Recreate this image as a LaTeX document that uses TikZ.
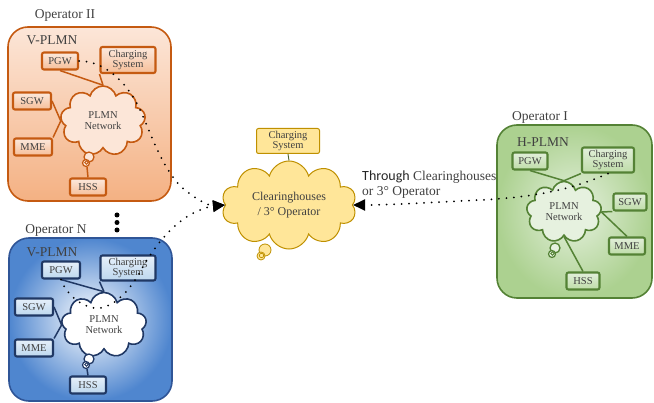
\documentclass[tikz,border=0pt]{standalone}
\usepackage{fontspec}
\setmainfont{Liberation Serif}
\newfontfamily\calibrifont{Carlito}
\usetikzlibrary{shapes.symbols,arrows.meta,calc}
\definecolor{txt}{HTML}{404040}
\definecolor{ored}{HTML}{C55A11}
\definecolor{otop}{HTML}{FCE6D8}
\definecolor{obot}{HTML}{F4B183}
\definecolor{obtop}{HTML}{FCE9DD}
\definecolor{obbot}{HTML}{F6BE98}
\definecolor{bbord}{HTML}{2F5597}
\definecolor{bnavy}{HTML}{203864}
\definecolor{bout}{HTML}{4F86CF}
\definecolor{bbtop}{HTML}{E6F0FA}
\definecolor{bbbot}{HTML}{BDD7EE}
\definecolor{gbord}{HTML}{548235}
\definecolor{gin}{HTML}{E6F1DF}
\definecolor{gout}{HTML}{ACD190}
\definecolor{gbtop}{HTML}{E2EFDA}
\definecolor{gbbot}{HTML}{BEDCA8}
\definecolor{yfill}{HTML}{FFE699}
\definecolor{ybord}{HTML}{BF9000}
\definecolor{ygreen}{HTML}{4F6228}
\begin{document}
\begin{tikzpicture}[x=1pt,y=-1pt,
  box/.style={draw, rounded corners=2pt, line width=2.1pt, text=txt,
    font=\fontsize{10.5}{10.5}\selectfont, inner sep=1pt, align=center, minimum height=17pt},
  obox/.style={box, draw=ored, top color=obtop, bottom color=obbot},
  bbox/.style={box, draw=bnavy, top color=bbtop, bottom color=bbbot},
  gbox/.style={box, draw=gbord, top color=gbtop, bottom color=gbbot},
  pcloud/.style={cloud, cloud puffs=9, cloud ignores aspect, draw, line width=1.6pt,
    text=txt, font=\fontsize{10.5}{11}\selectfont, align=center, inner sep=0pt},
  opanel/.style={draw=ored, line width=1.6pt, rounded corners=20pt, top color=otop, bottom color=obot},
  bpanel/.style={draw=bbord, line width=1.6pt, rounded corners=20pt, inner color=white, outer color=bout},
  gpanel/.style={draw=gbord, line width=1.6pt, rounded corners=20pt, inner color=gin, outer color=gout},
  oplabel/.style={text=txt, font=\fontsize{13.5}{14}\selectfont},
  oline/.style={draw=ored, line width=1.5pt},
  bline/.style={draw=bnavy, line width=1.5pt},
  gline/.style={draw=gbord, line width=1.5pt},
  dotline/.style={line width=2pt, dash pattern=on 0pt off 7.5pt, line cap=round},
  tip/.style={-{Triangle[length=12pt,width=11pt]}}
]
\useasboundingbox (0,0) rectangle (654,403);

% ---------- Operator II (orange) ----------
\path[opanel] (8,27) rectangle (171,201);
\node[oplabel] (opII) at (65,15) {Operator II};
\node[oplabel] (vplmnA) at (52,40) {V-PLMN};
\node[pcloud, draw=ored, fill=otop, minimum width=85pt, minimum height=70pt] (clA) at (103,121) {PLMN\\Network};
\node[obox, minimum width=36pt] (pgwA) at (60,61) {PGW};
\node[obox, minimum width=55pt, minimum height=26pt] (csA) at (128,60) {Charging\\System};
\node[obox, minimum width=38pt] (sgwA) at (32,101) {SGW};
\node[obox, minimum width=38pt] (mmeA) at (33,147) {MME};
\node[obox, minimum width=36pt] (hssA) at (88,187) {HSS};
\draw[ored, line width=1.3pt, fill=otop] (89,157) circle (5);
\draw[ored, line width=1.2pt, fill=otop] (86,163) circle (3.5);
\draw[ored, line width=0.9pt] (86.5,162.5) circle (1.8);
\coordinate (hbA) at (87,167);
\draw[oline] (pgwA.south) -- (clA.north);
\draw[oline] (csA.south west) -- (clA.north);
\draw[oline] (sgwA.east) -- (clA.west);
\draw[oline] (mmeA.north east) -- (clA.west);
\draw[oline] (hssA.north) -- (hbA);

% dots between panels
\foreach \yy in {215,222.5,230} \fill (117,\yy) circle (2.5);

% ---------- Operator N (blue) ----------
\path[bpanel] (9,238) rectangle (172,401);
\node[oplabel] (opN) at (56,230) {Operator N};
\node[oplabel] (vplmnB) at (52,252) {V-PLMN};
\node[pcloud, draw=bnavy, fill=white, minimum width=85pt, minimum height=65pt] (clB) at (104,325) {PLMN\\Network};
\node[bbox, minimum width=38pt] (pgwB) at (61,270) {PGW};
\node[bbox, minimum width=55pt, minimum height=25pt] (csB) at (128,268) {Charging\\System};
\node[bbox, minimum width=38pt] (sgwB) at (34,307) {SGW};
\node[bbox, minimum width=38pt] (mmeB) at (34,348) {MME};
\node[bbox, minimum width=36pt] (hssB) at (88,385) {HSS};
\draw[bnavy, line width=1.3pt, fill=white] (89,359) circle (5);
\draw[bnavy, line width=1.2pt, fill=white] (86,365) circle (3.5);
\draw[bnavy, line width=0.9pt] (86.5,364.5) circle (1.8);
\coordinate (hbB) at (87,369);
\draw[bline] (pgwB.south) -- (clB.north);
\draw[bline] (csB.south west) -- (clB.north);
\draw[bline] (sgwB.east) -- (clB.west);
\draw[bline] (mmeB.north east) -- (clB.west);
\draw[bline] (hssB.north) -- (hbB);

% ---------- Center (yellow) ----------
\node[pcloud, cloud puffs=10, draw=ybord, fill=yfill, line width=1pt, font=\fontsize{12}{14.5}\selectfont,
  minimum width=135pt, minimum height=88pt] (yc) at (289,205) {Clearinghouses\\/ 3\textdegree{} Operator};
\node[box, draw=ybord, fill=yfill, line width=1pt, minimum width=63pt, minimum height=25pt] (ycs) at (288,141) {Charging\\System};
\draw[ygreen, line width=0.9pt] (ycs.south) -- (yc.north);
\draw[ybord, line width=0.8pt, fill=yfill] (265,250) circle (6);
\draw[ybord, line width=0.8pt, fill=yfill] (261,256) circle (4);
\draw[ybord, line width=0.7pt] (261.5,255.5) circle (2.2);

% ---------- Operator I (green) ----------
\path[gpanel] (497,125) rectangle (652,298);
\node[oplabel] (opI) at (540,117) {Operator I};
\node[oplabel] (hplmn) at (543,142) {H-PLMN};
\node[pcloud, draw=gbord, fill=gin, minimum width=75pt, minimum height=61pt] (clC) at (564,212) {PLMN\\Network};
\node[gbox, minimum width=35pt] (pgwC) at (530,161) {PGW};
\node[gbox, minimum width=52pt, minimum height=25pt] (csC) at (608,160) {Charging\\System};
\node[gbox, minimum width=33pt] (sgwC) at (630,202) {SGW};
\node[gbox, minimum width=36pt] (mmeC) at (627,246) {MME};
\node[gbox, minimum width=33pt] (hssC) at (583,281) {HSS};
\draw[gbord, line width=1.3pt, fill=gin] (555,248) circle (5);
\draw[gbord, line width=1.2pt, fill=gin] (552,254) circle (3.5);
\draw[gbord, line width=0.9pt] (552.5,253.5) circle (1.8);
\draw[gline] (pgwC.south) -- (clC.north);
\draw[gline] (csC.south west) -- (clC.north);
\draw[gline] (sgwC.south west) -- (clC.east);
\draw[gline] (mmeC.north) -- (clC.east);
\draw[gline] (hssC.north) -- (clC.south);

% ---------- label ----------
\node[anchor=west, align=left, text=txt, font=\fontsize{13.5}{15}\selectfont, inner sep=0pt] (thr) at (362,185)
  {{\calibrifont\fontsize{14}{15}\selectfont\color{black!85}Through} Clearinghouses\\or 3\textdegree{} Operator};

% ---------- dotted connectors ----------
\coordinate (oa) at (135,100);
\coordinate (ob) at (185,190);
\draw[dotline, tip] (pgwA.east) .. controls (100,61) and (120,75) .. (oa)
  .. controls (147,120) and (160,170) .. (ob)
  .. controls (200,202) and (210,206) .. (yc.west);
\coordinate (ba) at (100,308);
\coordinate (bb) at (140,272);
\coordinate (bc) at (200,210);
\draw[dotline, tip] (pgwB.south) .. controls (66,295) and (85,310) .. (ba)
  .. controls (115,306) and (130,290) .. (bb)
  .. controls (150,254) and (170,222) .. (bc)
  .. controls (208,207) .. (yc.west);
\coordinate (ga) at (480,200);
\draw[dotline, tip] (csC.south) .. controls (575,188) and (540,197) .. (ga)
  .. controls (420,203) and (390,205) .. (yc.east);
\end{tikzpicture}
\end{document}
